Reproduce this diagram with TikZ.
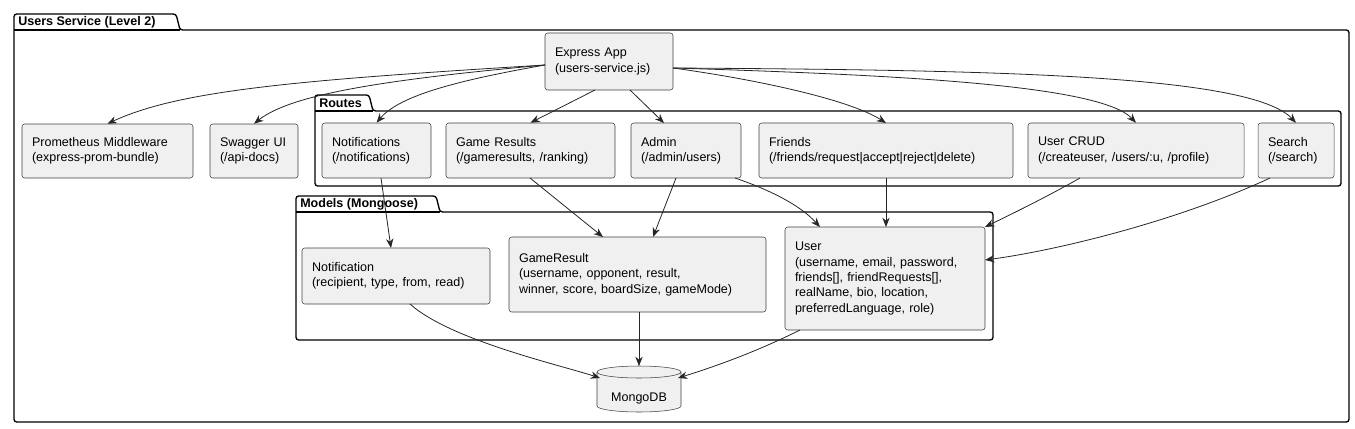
\documentclass[tikz,border=0pt]{standalone}
\usepackage{fontspec}
\setmainfont{Liberation Sans}
\usetikzlibrary{arrows.meta,shapes.geometric,calc}
\begin{document}
\begin{tikzpicture}[x=0.75pt,y=-0.75pt,
  box/.style={draw=black!75,fill=black!6,rounded corners=2pt,align=left,inner sep=0pt,font=\fontsize{9.4pt}{11.5pt}\selectfont},
  pkg/.style={draw=black,line width=1pt},
  arr/.style={-{Stealth[length=7pt,width=5.5pt]},black!85,line width=0.6pt},
  tab/.style={font=\bfseries\fontsize{9.4pt}{11pt}\selectfont,anchor=west,inner sep=0pt}]
\useasboundingbox (0,0) rectangle (1355,428);
\newcommand\bx[6]{\node[box,minimum width={(#4-#2)*0.75pt},minimum height={(#5-#3)*0.75pt},text width={(#4-#2-20)*0.75pt}] (#1) at ({(#2+#4)/2},{(#3+#5)/2}) {#6};}
\newcommand\pk[7]{% name x1 ytab x2 y2 tabright label
  \draw[pkg,rounded corners=2pt] (#2,#3) -- (#6-4,#3) -- (#6,#3+16) -- (#4,#3+16) -- (#4,#5) -- (#2,#5) -- cycle;
  \draw[pkg] (#2,#3+16) -- (#6,#3+16);
  \node[tab] (#1) at (#2+4,#3+8) {#7};}
\pk{pu}{14}{14}{1349}{422}{180}{Users Service (Level 2)}
\pk{pr}{315}{95}{1341}{186}{373}{Routes}
\pk{pm}{296}{196}{993}{340}{440}{Models (Mongoose)}
\bx{app}{545}{33}{673}{90}{Express App\\(users-service.js)}
\bx{prom}{22}{124}{193}{178}{Prometheus Middleware\\(express-prom-bundle)}
\bx{swag}{210}{124}{298}{178}{Swagger UI\\(/api-docs)}
\bx{noti}{322}{123}{431}{178}{Notifications\\(/notifications)}
\bx{game}{446}{123}{615}{178}{Game Results\\(/gameresults, /ranking)}
\bx{admin}{631}{123}{741}{178}{Admin\\(/admin/users)}
\bx{friends}{759}{123}{1013}{178}{Friends\\(/friends/request|accept|reject|delete)}
\bx{crud}{1028}{123}{1244}{178}{User CRUD\\(/createuser, /users/:u, /profile)}
\bx{search}{1258}{123}{1334}{178}{Search\\(/search)}
\bx{notif}{302}{248}{490}{304}{Notification\\(recipient, type, from, read)}
\bx{gres}{509}{237}{766}{312}{GameResult\\(username, opponent, result,\\winner, score, boardSize, gameMode)}
\bx{user}{785}{227}{985}{330}{User\\(username, email, password,\\friends[], friendRequests[],\\realName, bio, location,\\preferredLanguage, role)}
\draw[draw=black!75,fill=black!6] (597,372) -- (597,406) arc[start angle=180,end angle=0,x radius=42,y radius=6] -- (681,372) arc[start angle=0,end angle=-180,x radius=42,y radius=6];
\draw[draw=black!75] (597,372) arc[start angle=180,end angle=0,x radius=42,y radius=6];
\node[font=\fontsize{9.4pt}{11pt}\selectfont] (mongo) at (639,398) {MongoDB};
\coordinate (aL) at (545,65);
\coordinate (aR) at (673,68);
\draw[arr] (aL) .. controls (300,80) and (180,90) .. (prom.north);
\draw[arr] (aL) .. controls (380,80) and (290,95) .. (swag.north);
\draw[arr] (aL) .. controls (460,80) and (400,95) .. (noti.north);
\draw[arr] (595,90) -- (game.north);
\draw[arr] (630,90) -- (664,123);
\draw[arr] (aR) .. controls (760,80) and (850,100) .. (886,123);
\draw[arr] (aR) .. controls (900,75) and (1100,85) .. (crud.north);
\draw[arr] (aR) .. controls (1000,70) and (1250,75) .. (search.north);
\draw[arr] (381,178) -- (391,248);
\draw[arr] (530,178) -- (603,237);
\draw[arr] (676,178) -- (653,237);
\draw[arr] (735,178) .. controls (770,190) and (800,205) .. (820,227);
\draw[arr] (886,178) -- (886,227);
\draw[arr] (1080,178) .. controls (1050,195) and (1020,210) .. (985,227);
\draw[arr] (1270,178) .. controls (1180,220) and (1060,250) .. (985,260);
\draw[arr] (410,304) .. controls (450,340) and (560,365) .. (600,378);
\draw[arr] (639,312) -- (639,366);
\draw[arr] (800,330) .. controls (760,350) and (720,365) .. (678,378);
\end{tikzpicture}
\end{document}
